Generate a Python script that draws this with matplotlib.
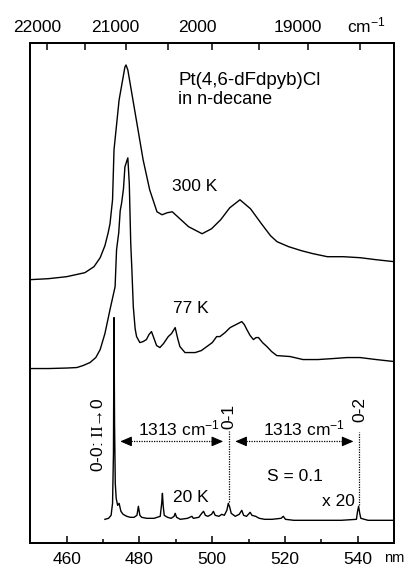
import numpy as np
import matplotlib
matplotlib.use("Agg")
import matplotlib.pyplot as plt

plt.rcParams['font.family'] = ['Liberation Sans', 'DejaVu Sans']
plt.rcParams['mathtext.fontset'] = 'custom'
plt.rcParams['mathtext.rm'] = 'Liberation Serif'
plt.rcParams['mathtext.default'] = 'regular'

# ---- data (wavelength nm, intensity a.u. with vertical offsets) ----
nm_300K = [450, 455, 460, 465, 467.5, 469.2, 470.5, 471.4, 471.9, 472.6, 473.0, 474.4,
           476.0, 476.3, 476.8, 478.2, 481.0, 482.8, 484.8, 486.2, 487.6, 489.0, 490.8,
           493.5, 497.2, 499.8, 502.3, 504.8, 507.6, 510.5, 513.5, 516.0, 517.8, 521.0,
           524.5, 527.7, 531.6, 536.0, 540.6, 545.0, 550.0]
I_300K = [264, 265, 267, 271, 277, 286, 298, 311, 320, 344, 394, 444,
          477, 479, 474, 444, 384, 354, 332, 329, 331, 332, 326,
          317, 310, 315, 324, 336, 344, 335, 320, 308, 302, 297,
          293, 290, 287, 287, 286, 284, 282]

nm_77K = [450, 455, 460, 462.8, 464.5, 466.4, 468, 469.2, 470.5, 471.9, 473.3, 473.7,
          474.3, 474.7, 475.1, 475.6, 476.0, 476.8, 477.2, 477.6, 477.9, 478.3, 478.8,
          479.2, 480.1, 481.0, 481.9, 482.6, 483.3, 484.0, 484.7, 485.6, 486.6, 487.9,
          488.8, 489.8, 490.5, 491.1, 492.5, 495.3, 497.0, 498.5, 500.0, 501.2, 502.1,
          503.5, 504.9, 506.5, 508.1, 508.8, 509.5, 510.4, 511.3, 512.0, 512.7, 513.8,
          515.0, 516.3, 517.7, 521.4, 524.9, 529.0, 533.2, 537.0, 540.6, 545.0, 550.0]
I_77K = [175, 175, 175.5, 176, 178, 181, 186, 194, 210, 234, 257, 294,
         311, 333, 341, 355, 377, 386, 360, 300, 275, 237, 215,
         207, 201, 202, 204, 209, 212, 205, 198, 196, 200, 207,
         210, 216, 205, 197, 191, 191, 193, 197, 201, 207, 207,
         211, 216, 219, 222, 219, 214, 208, 204, 206, 206, 201,
         197, 192, 188, 187, 184, 184, 185, 186, 186, 184, 182]

nm_20K = [470.5, 471.5, 472.2, 472.6, 472.85, 473.0, 473.15, 473.35, 473.6, 474.0, 474.4,
          474.9, 475.5, 476.5, 477.5, 478.5, 479.3, 479.7, 480.1, 480.6, 482.0, 484.0,
          485.7, 486.1, 486.3, 486.5, 486.8, 487.7, 488.7, 489.5, 489.8, 490.2, 491.2,
          493.2, 494.4, 494.8, 496.3, 497.1, 497.6, 498.1, 498.8, 499.8, 500.3, 500.8,
          501.8, 502.6, 503.3, 504.0, 504.4, 504.8, 505.2, 506.3, 507.4, 508.1, 508.6,
          509.4, 510.4, 510.9, 511.9, 512.9, 514.4, 516.4, 518.9, 519.5, 520.1, 522.4,
          525.4, 530.4, 535.4, 539.6, 539.9, 540.2, 540.5, 540.8, 542.8, 545.8, 550.0]
I_20K = [24, 25, 28, 40, 90, 226, 120, 60, 45, 38, 40,
         32, 29, 27, 26, 26, 28, 37, 28, 26, 25, 25,
         27, 40, 50, 38, 28, 26, 25, 27, 30, 26, 24,
         25, 27, 25, 26, 30, 32, 28, 27, 29, 32, 28,
         27, 29, 28, 33, 40, 36, 30, 27, 29, 33, 28,
         27, 31, 28, 27, 25, 24, 24, 25, 27, 24, 23,
         23, 23, 23, 24, 32, 37, 30, 25, 23, 23, 23]

bottom_ticks = [460, 480, 500, 520, 540]
bottom_minor = [470, 490, 510, 530]
top_ticks_cm = [22000, 21500, 21000, 20500, 20000, 19500, 19000, 18500]
top_labels = ["22000", "21000", "2000", "19000"]
top_label_x = [451.8, 473.3, 495.8, 523.5]

line_0_0 = 473.0
line_0_1 = 504.5
line_0_2 = 540.3

# ---- figure ----
fig = plt.figure(figsize=(4.07, 5.69), dpi=100)
ax = fig.add_axes([0.0744, 0.0452, 0.8944, 0.8792])
ax.set_xlim(450, 550)
ax.set_ylim(0, 501)

lw = 1.0
ax.plot(nm_300K, I_300K, color='black', lw=lw)
ax.plot(nm_77K, I_77K, color='black', lw=lw)
ax.plot(nm_20K, I_20K, color='black', lw=lw)

for s in ax.spines.values():
    s.set_linewidth(1.3)

ax.set_yticks([])
ax.set_xticks(bottom_ticks)
ax.set_xticks(bottom_minor, minor=True)
ax.tick_params(axis='x', which='major', direction='in', length=5, width=1.1,
               labelsize=12.5, pad=6, top=False)
ax.tick_params(axis='x', which='minor', direction='in', length=3, width=1.1, top=False)
ax.text(547.2, -19, "nm", fontsize=10.5, ha='left', va='baseline', clip_on=False)

ax2 = ax.twiny()
ax2.set_xlim(ax.get_xlim())
ax2.set_xticks(1e7 / np.array(top_ticks_cm))
ax2.set_xticklabels([])
ax2.tick_params(axis='x', direction='in', length=5, width=1.1)
for s in ax2.spines.values():
    s.set_linewidth(1.3)
for lab, xp in zip(top_labels, top_label_x):
    ax.text(xp, 512, lab, fontsize=12.5, ha='center', va='baseline', clip_on=False)
ax.text(537.0, 512, "cm$^{-1}$", fontsize=12.5, ha='left', va='baseline', clip_on=False)

fs = 12.5
ax.text(490.6, 459, "Pt(4,6-dFdpyb)Cl", fontsize=13.5, ha='left', va='baseline')
ax.text(490.6, 440, "in n-decane", fontsize=13, ha='left', va='baseline')
ax.text(488.9, 353, "300 K", fontsize=fs, ha='left', va='baseline')
ax.text(489.2, 231, "77 K", fontsize=fs, ha='left', va='baseline')
ax.text(489.2, 41, "20 K", fontsize=fs, ha='left', va='baseline')
ax.text(515.0, 62, "S = 0.1", fontsize=fs, ha='left', va='baseline')
ax.text(530.1, 37, "x 20", fontsize=fs, ha='left', va='baseline')
ax.text(479.7, 108, "1313 cm$^{-1}$", fontsize=fs, ha='left', va='baseline')
ax.text(514.0, 108, "1313 cm$^{-1}$", fontsize=fs, ha='left', va='baseline')
ax.text(468.6, 71, r"0-0: $\mathrm{II}$→0", fontsize=fs, rotation=90, ha='center', va='bottom')
ax.text(line_0_1, 114, "0-1", fontsize=fs, rotation=90, ha='center', va='bottom')
ax.text(line_0_2 + 0.3, 121, "0-2", fontsize=fs, rotation=90, ha='center', va='bottom')

# dotted vertical markers
ax.plot([line_0_1, line_0_1], [41, 112], color='black', lw=0.9, ls=(0, (1, 1)))
ax.plot([line_0_2, line_0_2], [38, 111], color='black', lw=0.9, ls=(0, (1, 1)))

# dotted double arrows
arrow_y = 102
for x0, x1 in [(474.7, 503.0), (506.3, 538.8)]:
    ax.plot([x0 + 1.5, x1 - 1.5], [arrow_y, arrow_y], color='black', lw=0.9, ls=(0, (1, 1)))
    for a, b in [(x0 + 2.2, x0), (x1 - 2.2, x1)]:
        ax.annotate('', xy=(b, arrow_y), xytext=(a, arrow_y),
                    arrowprops=dict(arrowstyle='-|>,head_length=0.7,head_width=0.3',
                                    color='black', lw=0.8, shrinkA=0, shrinkB=0))

fig.savefig("out.png", dpi=100)
